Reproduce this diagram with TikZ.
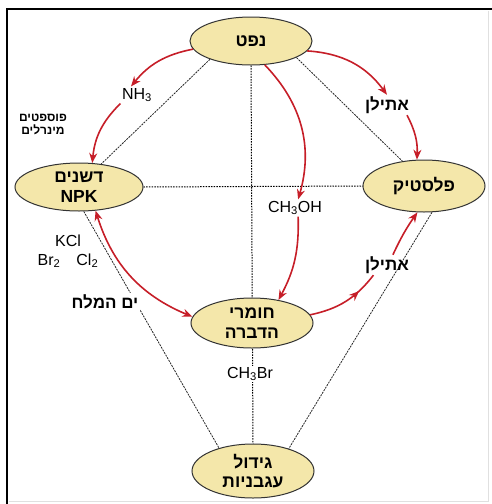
\documentclass[tikz,border=0pt]{standalone}
\usepackage{fontspec}
\setmainfont{Liberation Sans}
\newfontfamily\hebfont[Script=Hebrew]{Liberation Sans}
\TeXXeTstate=1
\usetikzlibrary{arrows.meta,shapes.geometric,backgrounds,decorations.markings}

\definecolor{blobfill}{RGB}{244,231,170}
\definecolor{arrred}{RGB}{198,30,40}

\newcommand{\heb}[1]{{\hebfont\beginR #1\endR}}

\tikzset{
  blob/.style={ellipse, draw=black!80, line width=1pt, fill=blobfill,
    inner sep=0pt, minimum width=122pt, minimum height=48pt, align=center,
    font=\fontsize{17.5}{19.5}\selectfont\bfseries},
  chem/.style={font=\fontsize{16}{19}\selectfont, inner sep=1.5pt},
  hlabel/.style={font=\fontsize{17}{19}\selectfont\bfseries, inner sep=1.5pt},
  redarr/.style={draw=arrred, line width=1.6pt, -{Stealth[length=10pt,width=8pt]}},
  midarr/.style={draw=arrred, line width=1.6pt, postaction={decorate},
    decoration={markings, mark=at position 0.72 with {\arrow{Stealth[length=10pt,width=8pt]}}}},
  linkline/.style={draw=black!85, line width=0.8pt, dash pattern=on 2pt off 1pt},
  gridline/.style={draw=black, line width=1pt, dash pattern=on 1.5pt off 1.2pt},
}

\begin{document}
\begin{tikzpicture}[x=1pt,y=-1pt]
  \useasboundingbox (0,0) rectangle (492,504);
  % frame
  \draw[line width=2.5pt] (7,504) -- (7,9) -- (492,9);
  \draw[black!12, line width=0.8pt] (488,11) -- (488,501) -- (9,501);

  % stations
  \node[blob] (oil) at (251,41) {\heb{נפט}};
  \node[blob, minimum width=128pt] (fert) at (79,187) {\heb{דשנים}\\NPK};
  \node[blob, minimum height=52pt] (plastic) at (424,186) {\heb{פלסטיק}};
  \node[blob, minimum height=50pt] (pest) at (252,323) {\heb{חומרי}\\\heb{הדברה}};
  \node[blob, minimum height=54pt] (tomato) at (253,471) {\heb{גידול}\\\heb{עגבניות}};

  % labels
  \node[chem] (nh3) at (137,95) {NH\textsubscript{3}};
  \node[hlabel, font=\fontsize{12}{13}\selectfont\bfseries, align=center] (phos) at (43,124) {\heb{פוספטים}\\\heb{מינרלים}};
  \node[hlabel] (eth1) at (387,105) {\heb{אתילן}};
  \node[chem] (ch3oh) at (295,208) {CH\textsubscript{3}OH};
  \node[chem, align=center] (salts) at (68,251) {KCl\\Br\textsubscript{2}\quad Cl\textsubscript{2}};
  \node[hlabel, fill=white] (deadsea) at (105,302) {\heb{ים המלח}};
  \node[hlabel] (eth2) at (387,265) {\heb{אתילן}};
  \node[chem, fill=white] (ch3br) at (250,374) {CH\textsubscript{3}Br};

  % links behind
  \begin{scope}[on background layer]
    \draw[linkline] (oil.204) -- (fert.46);
    \draw[linkline] (oil.340) -- (plastic.131);
    \draw[gridline] (oil.south) -- (tomato.north);
    \draw[gridline] (fert.east) -- (plastic.west);
    \draw[linkline] (fert.281) -- (tomato.146);
    \draw[linkline] (plastic.287) -- (tomato.32);
  \end{scope}

  % red routes
  \draw[redarr] (oil.188) to[bend right=20] (nh3.125);
  \draw[redarr] (nh3.south west) to[bend right=20] (fert.61);
  \draw[redarr] (oil.350) to[bend left=25] (eth1.north);
  \draw[redarr] (eth1.333) to[bend left=15] (plastic.105);
  \draw[redarr] (oil.300) to[bend left=30] (ch3oh.70);
  \draw[redarr] (ch3oh.290) to[bend left=15] (pest.41);
  \draw[redarr, {Stealth[length=10pt,width=8pt]}-{Stealth[length=10pt,width=8pt]}] (fert.305) to[bend right=25] (pest.174);
  \draw[midarr] (pest.8) to[bend right=20] (eth2.217);
  \draw[redarr] (eth2.60) to[bend left=5] (plastic.256);
\end{tikzpicture}
\end{document}
